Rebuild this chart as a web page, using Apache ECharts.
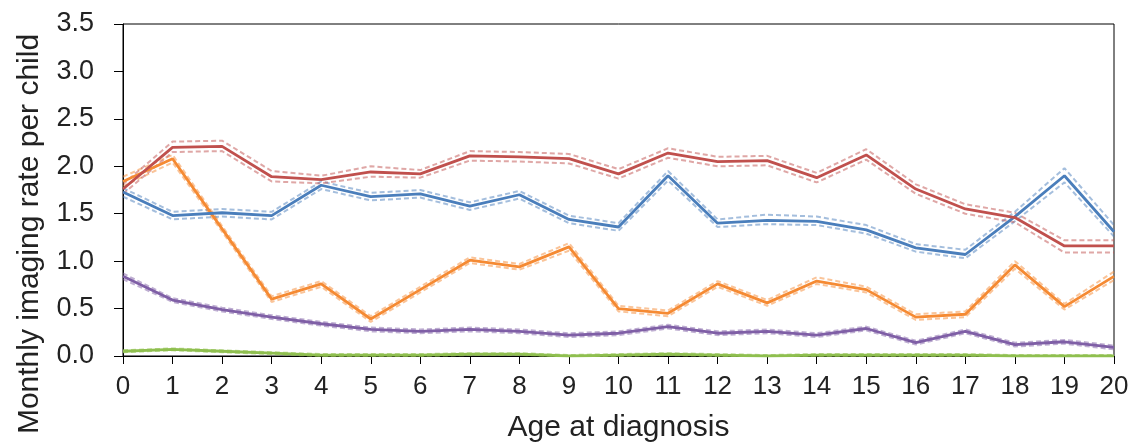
<!DOCTYPE html>
<html><head><meta charset="utf-8">
<script src="https://cdn.jsdelivr.net/npm/echarts@6/dist/echarts.min.js"></script>
<style>html,body{margin:0;padding:0;background:#fff}#c{width:1142px;height:448px}</style>
</head><body><div id="c"></div>
<script>
const ages = ['0','1','2','3','4','5','6','7','8','9','10','11','12','13','14','15','16','17','18','19','20'];
const yTicks = [0, 0.5, 1.0, 1.5, 2.0, 2.5, 3.0, 3.5];

const red      = [1.76,2.20,2.21,1.89,1.86,1.94,1.92,2.11,2.10,2.08,1.92,2.14,2.05,2.06,1.88,2.12,1.76,1.55,1.46,1.16,1.16];
const redHi    = [1.81,2.26,2.27,1.95,1.90,2.00,1.96,2.16,2.15,2.13,1.97,2.19,2.10,2.11,1.93,2.18,1.81,1.60,1.51,1.22,1.22];
const redLo    = [1.71,2.15,2.16,1.84,1.82,1.89,1.88,2.06,2.05,2.03,1.87,2.09,2.00,2.01,1.83,2.07,1.71,1.50,1.41,1.09,1.09];

const blue     = [1.73,1.48,1.51,1.48,1.80,1.68,1.71,1.58,1.70,1.44,1.36,1.90,1.40,1.43,1.42,1.33,1.14,1.07,1.47,1.90,1.31];
const blueHi   = [1.77,1.52,1.55,1.52,1.84,1.72,1.75,1.62,1.74,1.48,1.40,1.95,1.44,1.49,1.47,1.38,1.18,1.12,1.52,1.98,1.38];
const blueLo   = [1.68,1.44,1.47,1.44,1.76,1.64,1.67,1.54,1.66,1.40,1.32,1.85,1.36,1.39,1.38,1.29,1.10,1.03,1.42,1.83,1.26];

const orange   = [1.84,2.08,1.34,0.60,0.76,0.39,0.70,1.01,0.94,1.15,0.50,0.45,0.76,0.56,0.79,0.70,0.41,0.44,0.96,0.52,0.84];
const orangeHi = [1.89,2.12,1.37,0.63,0.79,0.42,0.73,1.04,0.97,1.19,0.53,0.48,0.79,0.59,0.83,0.73,0.44,0.47,1.00,0.55,0.89];
const orangeLo = [1.79,2.04,1.31,0.57,0.73,0.36,0.67,0.98,0.91,1.11,0.47,0.42,0.73,0.53,0.76,0.67,0.38,0.41,0.92,0.49,0.80];

const purple   = [0.84,0.59,0.49,0.41,0.34,0.28,0.26,0.28,0.26,0.22,0.24,0.31,0.24,0.26,0.22,0.29,0.14,0.26,0.12,0.15,0.09];
const purpleHi = [0.87,0.61,0.51,0.43,0.36,0.30,0.28,0.30,0.28,0.24,0.26,0.33,0.26,0.28,0.24,0.31,0.16,0.28,0.14,0.17,0.11];
const purpleLo = [0.81,0.57,0.47,0.39,0.32,0.26,0.24,0.26,0.24,0.20,0.22,0.29,0.22,0.24,0.20,0.27,0.12,0.24,0.10,0.13,0.07];

const green    = [0.05,0.07,0.05,0.03,0.01,0.01,0.01,0.02,0.02,0.00,0.01,0.02,0.01,0.00,0.01,0.01,0.01,0.01,0.00,0.00,0.00];
const greenHi  = [0.06,0.08,0.06,0.04,0.02,0.02,0.02,0.03,0.03,0.01,0.02,0.03,0.02,0.01,0.02,0.02,0.02,0.02,0.01,0.01,0.01];
const greenLo  = [0.04,0.06,0.04,0.02,0.00,0.00,0.00,0.01,0.01,0.00,0.00,0.01,0.00,0.00,0.00,0.00,0.00,0.00,0.00,0.00,0.00];

const groups = [
  {name:'A', color:'#c0504d', light:'rgba(192,80,77,0.5)', mid:red, hi:redHi, lo:redLo},
  {name:'B', color:'#4a7ebb', light:'rgba(74,126,187,0.5)', mid:blue, hi:blueHi, lo:blueLo},
  {name:'C', color:'#f58a33', light:'rgba(245,138,51,0.5)', mid:orange, hi:orangeHi, lo:orangeLo},
  {name:'D', color:'#7f5fa6', light:'rgba(127,95,166,0.5)', mid:purple, hi:purpleHi, lo:purpleLo},
  {name:'E', color:'#8fbf4f', light:'rgba(143,191,79,0.6)', mid:green, hi:greenHi, lo:greenLo}
];

const series = [];
groups.slice().reverse().forEach(g => {
  [g.hi, g.lo].forEach((arr, i) => series.push({
    name: g.name + (i ? ' lower' : ' upper'), type:'line', data: arr, symbol:'none', silent:true,
    lineStyle:{color:g.light, width:2, type:[5,3]}, z:2
  }));
  series.push({name:g.name, type:'line', data:g.mid, symbol:'none',
    lineStyle:{color:g.color, width:2.8}, z:3});
});

const chart = echarts.init(document.getElementById('c'));
const font = 'Liberation Sans, Arial, sans-serif';
chart.setOption({
  animation:false,
  backgroundColor:'#fff',
  grid:{left:123, right:28, top:24, bottom:92, show:true, borderColor:'#000', borderWidth:1},
  xAxis:{type:'category', data:ages, boundaryGap:false,
    name:'Age at diagnosis', nameLocation:'middle', nameGap:57,
    nameTextStyle:{fontFamily:font, fontSize:30, color:'#222'},
    axisLine:{lineStyle:{color:'#000', width:1}},
    axisTick:{show:true, length:8, lineStyle:{color:'#000'}, interval:0},
    axisLabel:{fontFamily:font, fontSize:26, color:'#222', margin:18, interval:0},
    splitLine:{show:false}},
  yAxis:{type:'value', min:0, max:3.5, interval:0.5,
    axisLine:{show:true, lineStyle:{color:'#000', width:1}},
    axisTick:{show:true, length:9, lineStyle:{color:'#000'}},
    axisLabel:{fontFamily:font, fontSize:27, color:'#222', margin:29,
      formatter: v => yTicks.includes(v) ? v.toFixed(1) : ''},
    splitLine:{show:false}},
  graphic:[{type:'text', x:30, y:234, rotation:Math.PI/2,
    style:{text:'Monthly imaging rate per child', fontFamily:font, fontSize:30, fill:'#222',
      align:'center', verticalAlign:'middle'}}],
  series: series
});
</script></body></html>
